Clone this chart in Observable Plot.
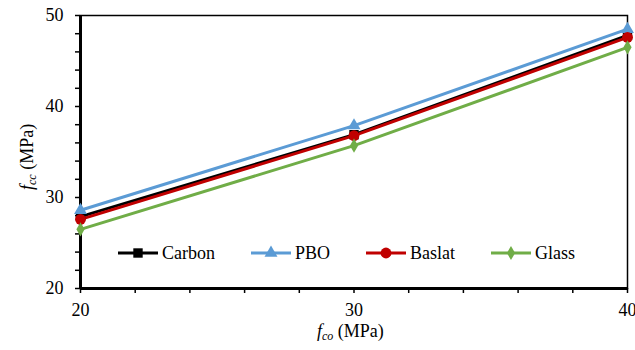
<!DOCTYPE html>
<html>
<head>
<meta charset="utf-8">
<script src="https://cdn.jsdelivr.net/npm/d3@7"></script>
<script src="https://cdn.jsdelivr.net/npm/@observablehq/plot@0.6"></script>
<style>
  html, body { margin: 0; padding: 0; background: #fff; }
  #wrap { position: relative; width: 635px; height: 350px; font-family: "Liberation Serif", serif; color: #000; }
  #wrap svg { overflow: visible; }
  #wrap svg text { font-family: "Liberation Serif", serif; }
  .lab { position: absolute; font-family: "Liberation Serif", serif; font-size: 18px; line-height: 1; white-space: nowrap; }
  .lab sub { font-size: 12px; vertical-align: -3px; font-style: italic; }
  #legend { position: absolute; left: 118px; top: 243px; display: flex; gap: 36px; font-family: "Liberation Serif", serif; font-size: 18px; line-height: 1; }
  .item { display: flex; align-items: center; gap: 4px; }
</style>
</head>
<body>
<div id="wrap"></div>
<script>
// ---- data ----
const fco = [20, 30, 40];
const carbon = [27.9, 36.9, 47.8];
const pbo = [28.6, 37.9, 48.5];
const basalt = [27.6, 36.8, 47.6];
const glass = [26.5, 35.7, 46.5];
const seriesNames = ["Carbon", "PBO", "Baslat", "Glass"];
const seriesValues = [carbon, pbo, basalt, glass];
const seriesColors = ["#000000", "#5B9BD5", "#C00000", "#70AD47"];
const seriesSymbols = ["square", "triangle", "circle", "diamond"];
const xTicks = d3.range(20, 41, 2);
const yTicks = d3.range(20, 51, 2);

const rows = [];
seriesNames.forEach((s, i) => fco.forEach((x, j) => rows.push({series: s, x, y: seriesValues[i][j]})));

const color = {domain: seriesNames, range: seriesColors};
const symbol = {domain: seriesNames, range: seriesSymbols};
const radius = {Carbon: 5.3, PBO: 4.8, Baslat: 5.4, Glass: 4.3};

const chart = Plot.plot({
  width: 635,
  height: 350,
  marginLeft: 80,
  marginRight: 8,
  marginTop: 15,
  marginBottom: 62,
  style: {fontFamily: "'Liberation Serif', serif", fontSize: "18px", color: "#000", background: "#fff"},
  x: {domain: [20, 40]},
  y: {domain: [20, 50]},
  color,
  symbol,
  marks: [
    Plot.frame({stroke: "#000", strokeWidth: 1.5}),
    Plot.axisX({ticks: xTicks, tickSize: 5, tickPadding: 10, strokeWidth: 1.5,
      tickFormat: d => d % 10 === 0 ? String(d) : "", label: null, fontSize: 18}),
    Plot.axisY({ticks: yTicks, tickSize: 5, tickPadding: 12, strokeWidth: 1.5,
      tickFormat: d => d % 10 === 0 ? String(d) : "", label: null, fontSize: 18}),
    Plot.ruleX([20], {stroke: "#000", strokeWidth: 3}),
    Plot.ruleY([20], {stroke: "#000", strokeWidth: 3}),
    Plot.line(rows, {x: "x", y: "y", z: "series", stroke: "series", strokeWidth: 3}),
    ...seriesNames.map(s => Plot.dot(rows.filter(d => d.series === s),
      {x: "x", y: "y", symbol: "series", fill: "series", stroke: null, r: radius[s]}))
  ]
});

const wrap = document.getElementById("wrap");
wrap.appendChild(chart);

// axis labels
const xl = document.createElement("div");
xl.className = "lab";
xl.innerHTML = "<i>f</i><sub>co</sub> (MPa)";
xl.style.left = "317px"; xl.style.top = "322px";
wrap.appendChild(xl);

const yl = document.createElement("div");
yl.className = "lab";
yl.innerHTML = "<i>f</i><sub>cc</sub> (MPa)";
yl.style.left = "-10px"; yl.style.top = "142px";
yl.style.width = "76px";
yl.style.transform = "rotate(-90deg)";
yl.style.transformOrigin = "center center";
wrap.appendChild(yl);

// legend
const legend = document.createElement("div");
legend.id = "legend";
const symMap = {square: d3.symbolSquare, triangle: d3.symbolTriangle, circle: d3.symbolCircle, diamond: d3.symbolDiamond};
seriesNames.forEach((s, i) => {
  const item = document.createElement("div");
  item.className = "item";
  const sw = d3.create("svg").attr("width", 40).attr("height", 20);
  sw.append("line").attr("x1", 0).attr("x2", 40).attr("y1", 10).attr("y2", 10)
    .attr("stroke", seriesColors[i]).attr("stroke-width", 3);
  const r = radius[s];
  sw.append("path").attr("transform", "translate(20,10)")
    .attr("d", d3.symbol(symMap[seriesSymbols[i]], Math.PI * r * r)())
    .attr("fill", seriesColors[i]);
  item.appendChild(sw.node());
  const t = document.createElement("span");
  t.textContent = s;
  item.appendChild(t);
  legend.appendChild(item);
});
wrap.appendChild(legend);
</script>
</body>
</html>
